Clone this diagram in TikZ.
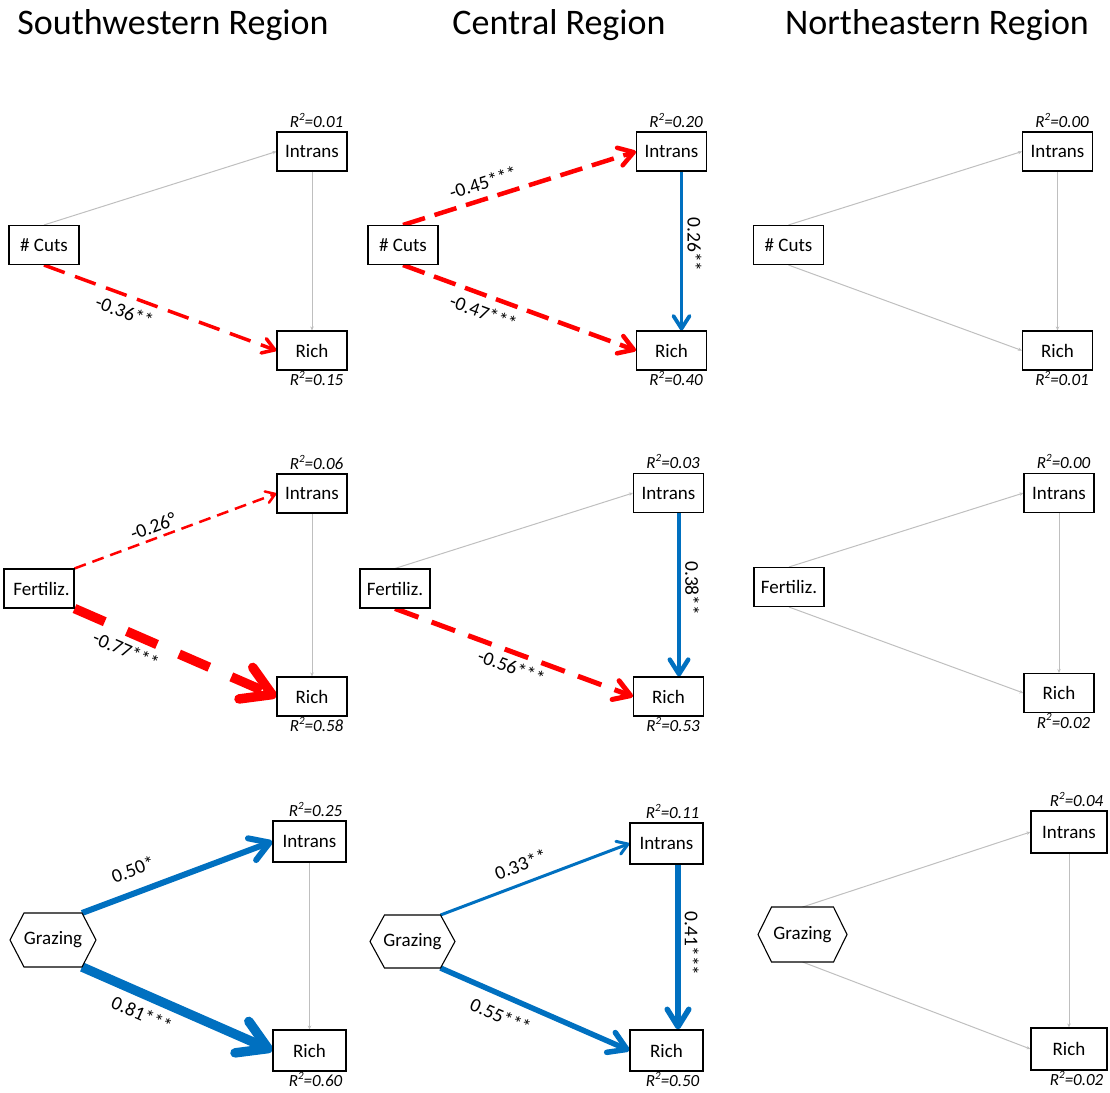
\documentclass[tikz,border=0pt]{standalone}
\usepackage{fontspec}
\setmainfont{Carlito}
\usetikzlibrary{arrows.meta,calc,backgrounds}
\definecolor{pptred}{HTML}{FF0000}
\definecolor{pptblue}{HTML}{0070C0}
\definecolor{lgray}{HTML}{BFBFBF}
\newcommand\rsqtext[1]{R\raisebox{0.42em}{\fontsize{11}{11}\selectfont 2}=#1}
\begin{document}
\begin{tikzpicture}[x=1pt,y=-1pt,
  box/.style={draw=black, line width=1.1pt, fill=white, minimum width=70pt, minimum height=39pt, inner sep=0pt, font=\fontsize{19}{19}\selectfont},
  boxb/.style={box, minimum width=73pt, minimum height=41pt},
  hexlbl/.style={inner sep=0pt, font=\fontsize{19}{19}\selectfont},
  hexline/.style={draw=black, line width=1.1pt, fill=white},
  title/.style={font=\fontsize{36}{36}\selectfont, anchor=base, inner sep=0pt},
  rsq/.style={font=\itshape\fontsize{17}{17}\selectfont, inner sep=0pt},
  ns/.style={draw=lgray, line width=1pt, -{Stealth[length=4pt,width=3.5pt]}},
  negarr/.style={draw=pptred, line width=#1, -{Straight Barb[round,length=2pt 2.8,width=4pt 3.2]}},
  posarr/.style={draw=pptblue, line width=#1, -{Straight Barb[round,length=2pt 2.8,width=4pt 3.2]}},
  lbl/.style={font=\fontsize{19.5}{19.5}\selectfont, sloped, inner sep=1pt},
  vlbl/.style={font=\fontsize{19.5}{19.5}\selectfont, rotate=-90, anchor=south, inner sep=4pt}
]
\path[use as bounding box] (0,0) rectangle (1110,1092);

% titles
\node[title] (t1) at (173,34) {Southwestern Region};
\node[title] (t2) at (559,34) {Central Region};
\node[title] (t3) at (937,34) {Northeastern Region};

% ---------- Row 1 ----------
\node[box] (c1) at (44,245) {\# Cuts};
\node[box] (i1) at (312,151.5) {Intrans};
\node[box] (r1) at (312,350.5) {Rich};
\node[box] (c2) at (403,245) {\# Cuts};
\node[box] (i2) at (671.5,151.5) {Intrans};
\node[box] (r2) at (671.5,350.5) {Rich};
\node[box] (c3) at (788.5,245) {\# Cuts};
\node[box] (i3) at (1057.5,151.5) {Intrans};
\node[box] (r3) at (1057.5,350.5) {Rich};

% ---------- Row 2 ----------
\node[box] (f1) at (39,588.5) {\hspace*{5pt}Fertiliz.};
\node[box] (i4) at (312,493.5) {Intrans};
\node[box] (r4) at (312,696.5) {Rich};
\node[box] (f2) at (395,588.5) {Fertiliz.};
\node[box] (i5) at (668.5,493) {Intrans};
\node[box] (r5) at (668.5,696.5) {Rich};
\node[box] (f3) at (789,587) {Fertiliz.};
\node[box] (i6) at (1059,493) {Intrans};
\node[box] (r6) at (1059,693) {Rich};

% ---------- Row 3 ----------
\coordinate (g1) at (53,940);
\draw[hexline] ($(g1)+(-43,0)$) -- ($(g1)+(-29,-27)$) -- ($(g1)+(29,-27)$) coordinate (g1tr)
  -- ($(g1)+(43,0)$) -- ($(g1)+(29,27)$) coordinate (g1br) -- ($(g1)+(-29,27)$) -- cycle;
\node[hexlbl] (g1t) at (g1) {Grazing};
\node[boxb] (i7) at (309.5,841.5) {Intrans};
\node[boxb] (r7) at (309.5,1050.5) {Rich};

\coordinate (g2) at (412.5,941.5);
\draw[hexline] ($(g2)+(-42.5,0)$) -- ($(g2)+(-28,-26.5)$) -- ($(g2)+(28,-26.5)$) coordinate (g2tr)
  -- ($(g2)+(42.5,0)$) -- ($(g2)+(28,26.5)$) coordinate (g2br) -- ($(g2)+(-28,26.5)$) -- cycle;
\node[hexlbl] (g2t) at (g2) {Grazing};
\node[boxb] (i8) at (666.5,843.5) {Intrans};
\node[boxb] (r8) at (666.5,1050.5) {Rich};

\coordinate (g3) at (802.5,934.5);
\draw[hexline] ($(g3)+(-44.5,0)$) -- ($(g3)+(-31,-27.5)$) coordinate (g3tl) -- ($(g3)+(31,-27.5)$)
  -- ($(g3)+(44.5,0)$) -- ($(g3)+(31,27.5)$) -- ($(g3)+(-31,27.5)$) coordinate (g3bl) -- cycle;
\coordinate (g3n) at ($(g3)+(0,-27.5)$);
\coordinate (g3s) at ($(g3)+(0,27.5)$);
\node[hexlbl] (g3t) at (g3) {Grazing};
\node[box, minimum width=76pt, minimum height=42pt] (i9) at (1069,832) {Intrans};
\node[box, minimum width=76pt, minimum height=42pt] (r9) at (1069,1049) {Rich};

% R^2 labels
\node[rsq, anchor=base east] (q1) at ($(i1.north east)+(-4,-4)$) {\rsqtext{0.01}};
\node[rsq, anchor=base east] (q2) at ($(r1.south east)+(-4,15)$) {\rsqtext{0.15}};
\node[rsq, anchor=base east] (q3) at ($(i2.north east)+(-4,-4)$) {\rsqtext{0.20}};
\node[rsq, anchor=base east] (q4) at ($(r2.south east)+(-4,15)$) {\rsqtext{0.40}};
\node[rsq, anchor=base east] (q5) at ($(i3.north east)+(-4,-4)$) {\rsqtext{0.00}};
\node[rsq, anchor=base east] (q6) at ($(r3.south east)+(-4,15)$) {\rsqtext{0.01}};
\node[rsq, anchor=base east] (q7) at ($(i4.north east)+(-4,-4)$) {\rsqtext{0.06}};
\node[rsq, anchor=base east] (q8) at ($(r4.south east)+(-4,15)$) {\rsqtext{0.58}};
\node[rsq, anchor=base east] (q9) at ($(i5.north east)+(-4,-4)$) {\rsqtext{0.03}};
\node[rsq, anchor=base east] (q10) at ($(r5.south east)+(-4,15)$) {\rsqtext{0.53}};
\node[rsq, anchor=base east] (q11) at ($(i6.north east)+(-4,-4)$) {\rsqtext{0.00}};
\node[rsq, anchor=base east] (q12) at ($(r6.south east)+(-4,15)$) {\rsqtext{0.02}};
\node[rsq, anchor=base east] (q13) at ($(i7.north east)+(-4,-4)$) {\rsqtext{0.25}};
\node[rsq, anchor=base east] (q14) at ($(r7.south east)+(-4,15)$) {\rsqtext{0.60}};
\node[rsq, anchor=base east] (q15) at ($(i8.north east)+(-4,-4)$) {\rsqtext{0.11}};
\node[rsq, anchor=base east] (q16) at ($(r8.south east)+(-4,15)$) {\rsqtext{0.50}};
\node[rsq, anchor=base east] (q17) at ($(i9.north east)+(-4,-4)$) {\rsqtext{0.04}};
\node[rsq, anchor=base east] (q18) at ($(r9.south east)+(-4,15)$) {\rsqtext{0.02}};

\begin{scope}[on background layer]
% Row 1 SW
\draw[ns] (c1.north) -- (i1.west);
\draw[ns] (i1.south) -- (r1.north);
\draw[negarr=3.5pt, dash pattern=on 22pt off 11pt] (c1.south) -- node[lbl, pos=0.37, below=6pt] (e1) {-0.36**} (r1.west);
% Row 1 Central
\draw[negarr=4.5pt, dash pattern=on 23pt off 10pt] (c2.north) -- node[lbl, pos=0.365, above=6pt] (e2) {-0.45***} (i2.west);
\draw[negarr=4.5pt, dash pattern=on 23pt off 10pt] (c2.south) -- node[lbl, pos=0.37, below=6.5pt] (e3) {-0.47***} (r2.west);
\draw[posarr=3.8pt] ([xshift=10pt]i2.south) -- node[vlbl, pos=0.46] (e4) {0.26**} ([xshift=10pt]r2.north);
% Row 1 NE
\draw[ns] (c3.north) -- (i3.west);
\draw[ns] (c3.south) -- (r3.west);
\draw[ns] (i3.south) -- (r3.north);

% Row 2 SW
\draw[ns] (i4.south) -- (r4.north);
\draw[negarr=2.5pt, dash pattern=on 12pt off 7pt] (f1.north east) -- node[lbl, pos=0.41, above=3pt] (e5) {-0.26°} (i4.west);
\draw[negarr=9.5pt, dash pattern=on 33pt off 24pt] (f1.south east) -- node[lbl, pos=0.29, below=5pt] (e6) {-0.77***} (r4.west);
% Row 2 Central
\draw[ns] (f2.north) -- (i5.west);
\draw[negarr=5pt, dash pattern=on 25pt off 14pt] (f2.south) -- node[lbl, pos=0.51, below=4pt] (e7) {-0.56***} (r5.west);
\draw[posarr=4.5pt] ([xshift=10.5pt]i5.south) -- node[vlbl, pos=0.46] (e8) {0.38**} ([xshift=10.5pt]r5.north);
% Row 2 NE
\draw[ns] (f3.north) -- (i6.west);
\draw[ns] (f3.south) -- (r6.west);
\draw[ns] (i6.south) -- (r6.north);

% Row 3 SW
\draw[ns] (i7.south) -- (r7.north);
\draw[posarr=6pt] (g1tr) -- node[lbl, pos=0.31, above=12pt] (e9) {0.50*} (i7.west);
\draw[posarr=9.5pt] (g1br) -- node[lbl, pos=0.355, below=6.5pt] (e10) {0.81***} (r7.west);
% Row 3 Central
\draw[posarr=3pt] (g2tr) -- node[lbl, pos=0.46, above=9.5pt] (e11) {0.33**} (i8.west);
\draw[posarr=5.5pt] (g2br) -- node[lbl, pos=0.36, below=9pt] (e12) {0.55***} (r8.west);
\draw[posarr=5.5pt] ([xshift=11.5pt]i8.south) -- node[vlbl, pos=0.48] (e13) {0.41***} ([xshift=11.5pt]r8.north);
% Row 3 NE
\draw[ns] (g3n) -- (i9.west);
\draw[ns] (g3s) -- (r9.west);
\draw[ns] (i9.south) -- (r9.north);
\end{scope}
\end{tikzpicture}
\end{document}
